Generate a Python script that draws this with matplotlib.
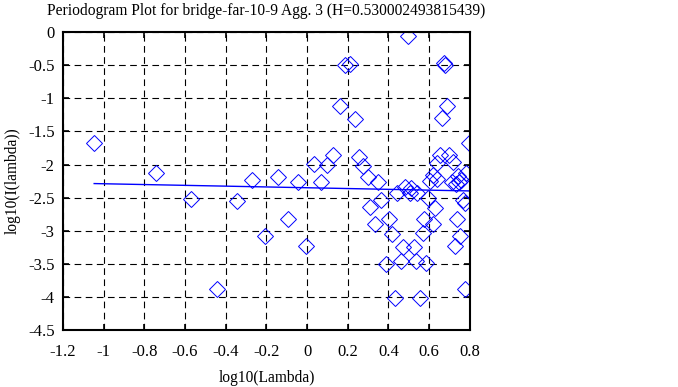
import numpy as np
import matplotlib
matplotlib.use("Agg")
import matplotlib.pyplot as plt
from matplotlib.ticker import FuncFormatter

# periodogram points: log10(lambda), log10(I(lambda))
log_lambda = [
    -1.047, -0.745, -0.571, -0.347, -0.270, -0.205, -0.445,
    0.496, 0.184, 0.211, 0.672, 0.679, 0.160, 0.233, 0.687, 0.662, 0.794,
    -0.142, -0.046, -0.093, -0.006, 0.033, 0.069, 0.099, 0.129,
    0.256, 0.276, 0.298, 0.348, 0.364, 0.310, 0.334, 0.402, 0.418,
    0.386, 0.433, 0.472, 0.523, 0.460, 0.535, 0.586, 0.557,
    0.443, 0.481, 0.513, 0.505, 0.541, 0.596, 0.577, 0.618, 0.570,
    0.628, 0.604, 0.738, 0.754, 0.725, 0.775,
    0.655, 0.696, 0.715, 0.639, 0.637, 0.617, 0.711, 0.740, 0.756,
    0.782, 0.747, 0.730, 0.766, 0.778,
]
log_I = [
    -1.671, -2.13, -2.52, -2.55, -2.24, -3.08, -3.88,
    -0.055, -0.49, -0.48, -0.47, -0.49, -1.12, -1.31, -1.12, -1.30, -1.67,
    -2.19, -2.27, -2.82, -3.23, -1.99, -2.27, -2.00, -1.85,
    -1.88, -2.02, -2.19, -2.26, -2.54, -2.64, -2.90, -2.82, -3.05,
    -3.50, -4.02, -3.24, -3.24, -3.46, -3.46, -3.49, -4.02,
    -2.43, -2.34, -2.35, -2.43, -2.43, -2.51, -2.82, -2.90, -3.04,
    -2.66, -2.25, -2.82, -3.08, -3.23, -3.88,
    -1.86, -1.85, -1.96, -1.98, -2.22, -2.16, -2.27, -2.18, -2.24,
    -2.12, -2.26, -2.29, -2.53, -2.58,
]

# fitted line
fit_x = [-1.047, 0.794]
fit_y = [-2.287, -2.398]

H = 0.530002493815439
title = f"Periodogram Plot for bridge-far-10-9 Agg. 3 (H={H})"

plt.rcParams['font.family'] = ['Liberation Serif', 'DejaVu Serif']
plt.rcParams['font.size'] = 12

fig = plt.figure(figsize=(6.78, 3.87), dpi=100)
ax = fig.add_axes([0.093, 0.147, 0.6, 0.77])

ax.plot(log_lambda, log_I, linestyle='none', marker='D', markersize=8,
        markerfacecolor='none', markeredgecolor='blue', markeredgewidth=0.7)
ax.plot(fit_x, fit_y, color='blue', linewidth=1.0)

ax.set_xlim(-1.2, 0.8)
ax.set_ylim(-4.5, 0)
ax.set_xticks(np.arange(-1.2, 0.81, 0.2))
ax.set_yticks(np.arange(-4.5, 0.01, 0.5))
fmt = FuncFormatter(lambda v, p: f"{round(v, 2):g}" if abs(v) > 1e-9 else "0")
ax.xaxis.set_major_formatter(fmt)
ax.yaxis.set_major_formatter(fmt)

ax.grid(True, color='black', linestyle=(0, (6, 4)), linewidth=0.8)
ax.tick_params(direction='in', top=True, right=True, length=4, width=1.2,
               colors='black', labelsize=12)
ax.tick_params(axis='x', pad=10)
ax.tick_params(axis='y', pad=6)
for s in ax.spines.values():
    s.set_linewidth(1.5)

ax.set_title(title, fontsize=11.2, pad=12)
ax.set_xlabel("log10(Lambda)", fontsize=11.2, labelpad=7)
ax.set_ylabel("log10(I(lambda))", fontsize=11.2, labelpad=5)

fig.savefig("out.png", dpi=100)
